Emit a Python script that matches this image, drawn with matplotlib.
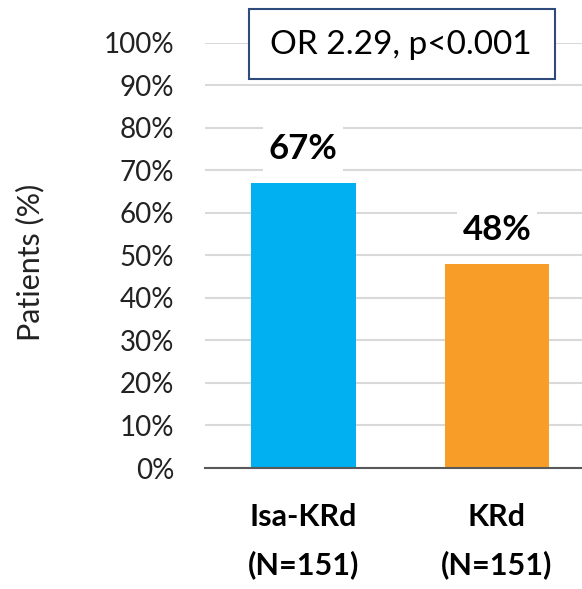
import numpy as np
import matplotlib
matplotlib.use("Agg")
import matplotlib.pyplot as plt
from matplotlib.patches import Rectangle

# data
groups = ["Isa-KRd\n(N=151)", "KRd\n(N=151)"]
values = [67, 48]
bar_colors = ["#00B0F0", "#F99D29"]
yticks = np.arange(0, 101, 10)
or_text = "OR 2.29, p<0.001"

plt.rcParams['font.family'] = ['Lato', 'DejaVu Sans']

fig = plt.figure(figsize=(5.82, 5.89), dpi=100)
ax = fig.add_axes([0.352, 0.2054, 0.648, 0.722])
W, H = 582., 589.

x = np.arange(len(values))
ax.bar(x, values, width=0.54, color=bar_colors, zorder=2)

for xi, v in zip(x, values):
	ax.annotate("%d%%" % v, (xi, v), xytext=(0, 13), textcoords="offset points",
		ha="center", va="bottom", fontsize=25, fontweight="bold",
		bbox=dict(facecolor="white", edgecolor="none", pad=4), zorder=4)

ax.set_ylim(0, 100)
ax.set_xlim(-0.509, 1.44)
ax.set_yticks(yticks)
ax.set_yticklabels(["%d%%" % t for t in yticks], fontsize=20, color="#222222")
ax.set_xticks(x)
ax.set_xticklabels(groups, fontsize=22, fontweight="bold", linespacing=1.8)
ax.tick_params(axis="y", length=0, pad=22)
ax.tick_params(axis="x", length=0, pad=25)
fig.text(30/W, 1 - 262/H, "Patients (%)", rotation=90, ha="center", va="center",
	fontsize=22, color="#222222")

ax.grid(axis="y", color="#D9D9D9", linewidth=1.5, zorder=0)
ax.set_axisbelow(True)
for s in ["top", "right", "left"]:
	ax.spines[s].set_visible(False)
ax.spines["bottom"].set_color("#595959")
ax.spines["bottom"].set_linewidth(1.5)
ax.spines["bottom"].set_zorder(3)

# OR box
box = Rectangle((249/W, 1 - 79/H), (555-249)/W, (79-9)/H, transform=fig.transFigure,
	facecolor="white", edgecolor="#2F4B7C", linewidth=1.5, zorder=5)
fig.patches.append(box)
fig.text(401/W, 1 - 45/H, or_text, ha="center", va="center", fontsize=24, zorder=6)

fig.savefig("out.png", dpi=100)
